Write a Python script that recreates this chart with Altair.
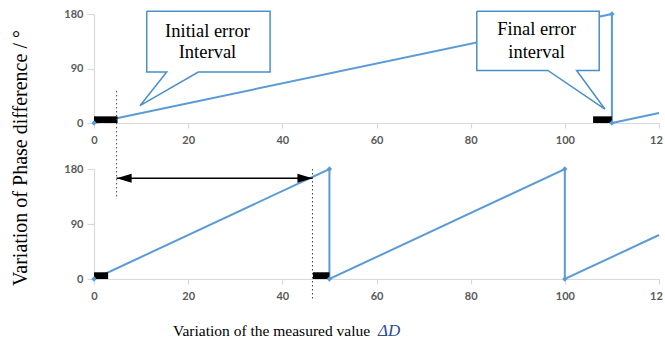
import altair as alt
import pandas as pd

# ---------------- data ----------------
top_x = [0, 110, 110, 120]
top_y = [0, 180, 0, 16.4]
top_marker_x = [0, 110, 110]
top_marker_y = [0, 180, 0]

bot_x = [0, 50, 50, 100, 100, 120]
bot_y = [0, 180, 0, 180, 0, 72]
bot_marker_x = [0, 50, 50, 100, 100]
bot_marker_y = [0, 180, 0, 180, 0]

# error interval bars (start, end) along x
top_bar_x1 = [0, 106]
top_bar_x2 = [5, 110]
bot_bar_x1 = [0, 46.5]
bot_bar_x2 = [3, 50]
bar_top = [11, 11]

x_ticks = [0, 20, 40, 60, 80, 100, 120]
y_ticks = [0, 90, 180]

y_title = "Variation of Phase difference / °"
x_title = "Variation of the measured value"
x_title_sym = "ΔD"

callout1_text = ["Initial error", "Interval"]
callout2_text = ["Final error", "interval"]

# annotation geometry (data coordinates of the panels)
callout1_x = [11.2, 37.4, 37.4, 22.15, 9.77, 15.44, 11.2, 11.2]
callout1_y = [184.5, 184.5, 84.2, 84.2, 28.6, 84.2, 84.2, 184.5]
callout2_x = [81.3, 107.3, 107.3, 102.5, 108.5, 96.4, 81.3, 81.3]
callout2_y = [184.5, 184.5, 86.7, 86.7, 23.1, 86.7, 86.7, 184.5]
callout1_tx, callout1_ty = 24.1, [152, 118]
callout2_tx, callout2_ty = 94.0, [155, 118]

dot1_x, dot1_y = 4.8, 53
dot2_x, dot2_y = 46.4, 180
arrow_x1, arrow_x2, arrow_y = 4.8, 46.4, 165

# ---------------- style ----------------
W, H1, H2 = 565, 109, 110
BLUE = "#5b9bd5"
CALL = "#4a8fc9"
SERIF = "Liberation Serif"

xscale = alt.Scale(domain=[0, 120], nice=False, zero=False)
yscale = alt.Scale(domain=[0, 180], nice=False)
# the last tick label is cut by the picture's right edge in the original
xaxis = alt.Axis(
    values=x_ticks, title=None, labelPadding=6, tickSize=5, labelFlush=False,
    labelExpr="datum.value == 120 ? '12' : datum.label",
    labelAlign={"condition": {"test": "datum.value == 120", "value": "left"}, "value": "center"},
    labelOffset={"condition": {"test": "datum.value == 120", "value": -9.5}, "value": 0},
)
yaxis = alt.Axis(values=y_ticks, title=None, labelPadding=4, tickSize=7, labelFlush=False)


def X(f="x"):
    return alt.X(f, type="quantitative", scale=xscale, axis=xaxis)


def Y(f="y"):
    return alt.Y(f, type="quantitative", scale=yscale, axis=yaxis)


def series(xs, ys):
    return pd.DataFrame({"x": xs, "y": ys, "i": list(range(len(xs)))})


def panel(lx, ly, mx, my, b1, b2):
    line = alt.Chart(series(lx, ly)).mark_line(color=BLUE, strokeWidth=2).encode(
        x=X(), y=Y(), order="i:Q")
    pts = alt.Chart(series(mx, my)).mark_point(
        shape="diamond", filled=True, color=BLUE, size=28, opacity=1).encode(x=X(), y=Y())
    bars = alt.Chart(pd.DataFrame({"x": b1, "x2": b2, "y": [0] * len(b1), "y2": bar_top})).mark_rect(
        color="black").encode(x=X(), x2="x2", y=Y(), y2="y2")
    return line, pts, bars


# ---------- top panel ----------
l1, p1, b1 = panel(top_x, top_y, top_marker_x, top_marker_y, top_bar_x1, top_bar_x2)

def callout(xs, ys):
    return alt.Chart(series(xs, ys)).mark_line(
        fill="white", stroke=CALL, strokeWidth=1.5, strokeJoin="miter").encode(
        x=X(), y=Y(), order="i:Q")

def callout_text(tx, tys, texts):
    return alt.Chart(pd.DataFrame({"x": [tx] * len(texts), "y": tys, "t": texts})).mark_text(
        font=SERIF, fontSize=18.5, color="black", align="center", baseline="middle").encode(
        x=X(), y=Y(), text="t:N")

c1 = callout(callout1_x, callout1_y)
c2 = callout(callout2_x, callout2_y)
t1 = callout_text(callout1_tx, callout1_ty, callout1_text)
t2 = callout_text(callout2_tx, callout2_ty, callout2_text)

dot1 = alt.Chart(pd.DataFrame({"x": [dot1_x], "y": [dot1_y]})).mark_rule(
    color="#444", strokeWidth=1, strokeDash=[1.5, 2.5]).encode(x=X(), y=Y(), y2=alt.value(185))

ytitle = alt.Chart(pd.DataFrame({"t": [y_title]})).mark_text(
    font=SERIF, fontSize=20, angle=270, align="center", baseline="middle", color="black").encode(
    x=alt.value(-73), y=alt.value(144), text="t:N")

top = alt.layer(l1, c1, c2, t1, t2, b1, p1, dot1, ytitle).properties(width=W, height=H1)

# ---------- bottom panel ----------
l2, p2, b2 = panel(bot_x, bot_y, bot_marker_x, bot_marker_y, bot_bar_x1, bot_bar_x2)

dot2 = alt.Chart(pd.DataFrame({"x": [dot2_x], "y": [dot2_y]})).mark_rule(
    color="#444", strokeWidth=1, strokeDash=[1.5, 2.5]).encode(x=X(), y=Y(), y2=alt.value(132))

arrow_line = alt.Chart(pd.DataFrame({"x": [arrow_x1], "x2": [arrow_x2], "y": [arrow_y]})).mark_rule(
    color="black", strokeWidth=1.5).encode(x=X(), x2="x2", y=Y())
heads = pd.DataFrame({"x": [arrow_x1, arrow_x2], "y": [arrow_y, arrow_y], "s": ["L", "R"]})
head_l = alt.Chart(heads[heads.s == "L"]).mark_point(
    shape="M0,0L2,-0.6L2,0.6Z", filled=True, color="black", size=225, opacity=1).encode(x=X(), y=Y())
head_r = alt.Chart(heads[heads.s == "R"]).mark_point(
    shape="M0,0L-2,-0.6L-2,0.6Z", filled=True, color="black", size=225, opacity=1).encode(x=X(), y=Y())

xt1 = alt.Chart(pd.DataFrame({"t": [x_title]})).mark_text(
    font=SERIF, fontSize=15.5, align="left", baseline="middle", color="black").encode(
    x=alt.value(79), y=alt.value(162), text="t:N")
xt2 = alt.Chart(pd.DataFrame({"t": [x_title_sym]})).mark_text(
    font=SERIF, fontSize=17, fontStyle="italic", align="left", baseline="middle", color="#2b4c9b").encode(
    x=alt.value(284), y=alt.value(162), text="t:N")

bottom = alt.layer(l2, b2, p2, dot2, arrow_line, head_l, head_r, xt1, xt2).properties(width=W, height=H2)

chart = alt.vconcat(top, bottom, spacing=46, bounds="flush").properties(
    padding={"left": 11, "top": 8, "right": 0, "bottom": 0}
).configure_view(stroke=None).configure_axis(
    grid=False, domainColor="#d9d9d9", domainWidth=1.2, tickColor="#d9d9d9", tickWidth=1.2,
    labelFont="Lato", labelFontSize=11, labelFontWeight="bold", labelColor="#595959",
)

chart.save("out.html", embed_options={"renderer": "svg", "actions": False})
